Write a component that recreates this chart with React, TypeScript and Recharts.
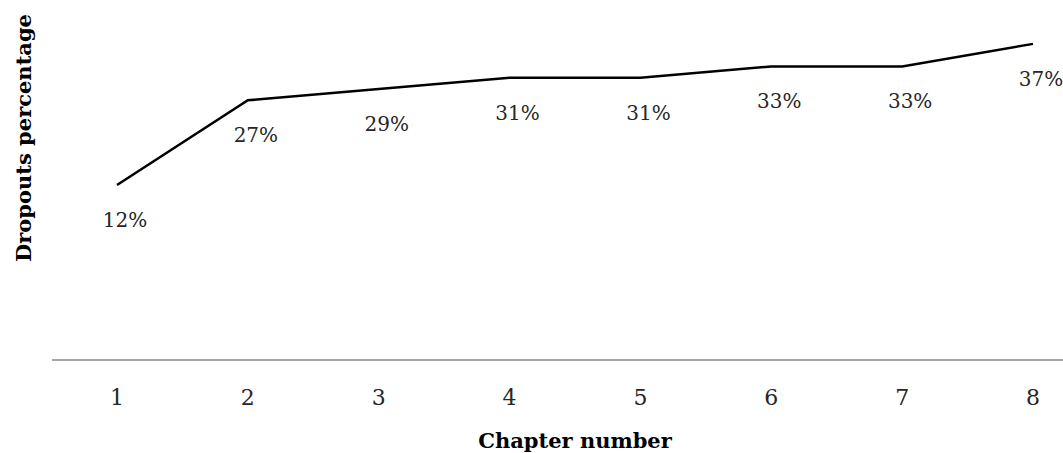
import React from 'react';
import { LineChart, Line, XAxis, YAxis, LabelList, Label } from 'recharts';

// Chapter numbers and the share of learners who dropped out at each one
const chapters = ['1', '2', '3', '4', '5', '6', '7', '8'];
const dropoutPct = [12, 27, 29, 31, 31, 33, 33, 37];
const yDomain: [number, number] = [-19, 43];

const data = chapters.map((c, i) => ({ chapter: c, pct: dropoutPct[i] }));

const SERIF = '"DejaVu Serif", serif';

const PctLabel = (props: any) => {
  const { x, y, value } = props;
  return (
    <text
      x={x + 8}
      y={y + 42}
      textAnchor="middle"
      fontFamily={SERIF}
      fontSize={20}
      fill="#262626"
    >
      {`${value}%`}
    </text>
  );
};

const YTitle = (props: any) => {
  const { viewBox } = props;
  const cx = viewBox.x + 31;
  const cy = viewBox.y + viewBox.height / 2 - 47;
  return (
    <text
      x={cx}
      y={cy}
      transform={`rotate(-90 ${cx} ${cy})`}
      textAnchor="middle"
      fontFamily={SERIF}
      fontWeight="bold"
      fontSize={21}
      fill="#000"
    >
      Dropouts percentage
    </text>
  );
};

export default function App() {
  return (
    <>
      <style>{'body{margin:0}'}</style>
      <div style={{ width: 1063, height: 453, overflow: 'hidden', background: '#fff' }}>
        <LineChart
          width={1098}
          height={453}
          data={data}
          margin={{ top: 10, right: 0, bottom: 0, left: 0 }}
        >
          <XAxis
            dataKey="chapter"
            padding={{ left: 65, right: 65 }}
            axisLine={{ stroke: '#a6a6a6', strokeWidth: 2 }}
            tickLine={false}
            tickMargin={23}
            height={93}
            interval={0}
            tick={{ fontFamily: SERIF, fontSize: 22, fill: '#262626' }}
          >
            <Label
              value="Chapter number"
              position="insideBottom"
              offset={5}
              fontFamily={SERIF}
              fontWeight="bold"
              fontSize={21}
              fill="#000"
            />
          </XAxis>
          <YAxis
            domain={yDomain}
            width={52}
            axisLine={false}
            tickLine={false}
            tick={false}
            allowDataOverflow
          >
            <Label content={YTitle} />
          </YAxis>
          <Line
            dataKey="pct"
            type="linear"
            stroke="#000"
            strokeWidth={2.5}
            dot={false}
            isAnimationActive={false}
          >
            <LabelList dataKey="pct" content={PctLabel} />
          </Line>
        </LineChart>
      </div>
    </>
  );
}
